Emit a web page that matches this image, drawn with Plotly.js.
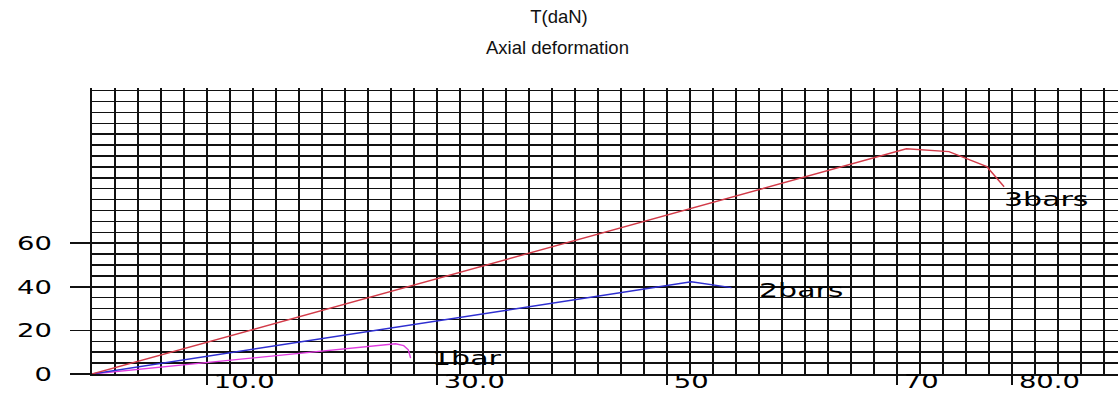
<!DOCTYPE html>
<html>
<head>
<meta charset="utf-8">
<script src="https://cdn.plot.ly/plotly-3.0.1.min.js"></script>
<style>
  html, body { margin: 0; padding: 0; background: #fff; }
  #chart { width: 1118px; height: 395px; }
</style>
</head>
<body>
<div id="chart"></div>
<script>
// ---- data ----
const seriesNames = ['1bar', '2bars', '3bars'];

const x1bar = [0, 26.4, 27.1, 27.5, 27.7];
const y1bar = [0, 13.9, 13.0, 11.1, 7.3];

const x2bars = [0, 52.1, 55.6];
const y2bars = [0, 42.3, 39.6];

const x3bars = [0, 70.8, 74.5, 77.8, 79.3];
const y3bars = [0, 103.3, 102.0, 95.1, 85.9];

const xTickVals = [10, 30, 50, 70, 80];
const xTickText = ['10.0', '30.0', '50', '70', '80.0'];
const yTickVals = [0, 20, 40, 60];
const yTickText = ['0', '20', '40', '60'];

const titleLine1 = 'T(daN)';
const titleLine2 = 'Axial deformation';

// ---- chart ----
const lineColors = ['#e03ce0', '#2e2ed0', '#d23a48'];
const xs = [x1bar, x2bars, x3bars];
const ys = [y1bar, y2bars, y3bars];

const traces = seriesNames.map((name, i) => ({
  type: 'scatter',
  mode: 'lines',
  name: name,
  x: xs[i],
  y: ys[i],
  line: { color: lineColors[i], width: 1.4 },
  hoverinfo: 'x+y+name'
}));

const tickFont = { family: 'DejaVu Sans', size: 20, color: '#000' };
const labelFont = { family: 'DejaVu Sans', size: 20, color: '#000' };
const labelShifts = [[19, 0], [25, -2], [-2, -12]];

const annotations = seriesNames.map((name, i) => ({
  x: xs[i][xs[i].length - 1],
  y: ys[i][ys[i].length - 1],
  xref: 'x', yref: 'y',
  text: name,
  showarrow: false,
  xanchor: 'left', yanchor: 'middle',
  xshift: labelShifts[i][0], yshift: labelShifts[i][1],
  font: labelFont
}));

annotations.push({
  xref: 'paper', yref: 'paper',
  x: 0.454, y: 1.143,
  xanchor: 'center', yanchor: 'middle',
  text: titleLine2,
  showarrow: false,
  font: { family: 'Liberation Sans', size: 18.5, color: '#111' }
});

const gridColor = '#111';

const layout = {
  width: 1118,
  height: 395,
  margin: { l: 92, r: 0, t: 88, b: 21 },
  paper_bgcolor: '#ffffff',
  plot_bgcolor: '#ffffff',
  showlegend: false,
  title: {
    text: titleLine1,
    x: 0.5, xref: 'container', xanchor: 'center',
    y: 0.957, yref: 'container', yanchor: 'middle',
    font: { family: 'Liberation Sans', size: 18.5, color: '#111' }
  },
  xaxis: {
    range: [0, 89.2],
    tickmode: 'array',
    tickvals: xTickVals,
    ticktext: xTickText,
    ticks: 'outside', ticklen: 9, tickwidth: 1.5, tickcolor: gridColor,
    ticklabelposition: 'outside right',
    ticklabelstandoff: -12,
    ticklabelshift: 5,
    tickfont: tickFont,
    showgrid: true, gridcolor: gridColor, gridwidth: 2,
    minor: { dtick: 2, tick0: 0, showgrid: true, gridcolor: gridColor, gridwidth: 2, ticks: '' },
    zeroline: false,
    showline: true, linecolor: gridColor, linewidth: 2,
    fixedrange: true
  },
  yaxis: {
    range: [0, 131.2],
    tickmode: 'array',
    tickvals: yTickVals,
    ticktext: yTickText,
    ticks: 'outside', ticklen: 20, tickwidth: 1.5, tickcolor: gridColor,
    ticklabelstandoff: 14,
    tickfont: tickFont,
    showgrid: true, gridcolor: gridColor, gridwidth: 1.5,
    minor: { dtick: 5, tick0: 0, showgrid: true, gridcolor: gridColor, gridwidth: 1.5, ticks: '' },
    zeroline: false,
    showline: true, linecolor: gridColor, linewidth: 2,
    fixedrange: true
  },
  annotations: annotations
};

// The reference uses a wide (horizontally stretched) face for labels:
// widen Plotly's own text glyphs while keeping each label's anchor edge fixed.
function widenLabels(gd, selector, factor) {
  gd.querySelectorAll(selector).forEach(el => {
    const w = el.getComputedTextLength();
    if (!w) return;
    const anchor = window.getComputedStyle(el).textAnchor || el.getAttribute('text-anchor');
    el.setAttribute('textLength', (w * factor).toFixed(2));
    el.setAttribute('lengthAdjust', 'spacingAndGlyphs');
    if (anchor === 'middle') {
      const x0 = parseFloat(el.getAttribute('x') || '0');
      el.setAttribute('x', (x0 + w * (factor - 1) / 2).toFixed(2));
    }
  });
}

Plotly.newPlot('chart', traces, layout, { displayModeBar: false, staticPlot: true })
  .then(gd => {
    widenLabels(gd, '.xtick text, .ytick text', 1.37);
    widenLabels(gd, '.annotation:not([data-index="3"]) .annotation-text', 1.5);
  });
</script>
</body>
</html>
